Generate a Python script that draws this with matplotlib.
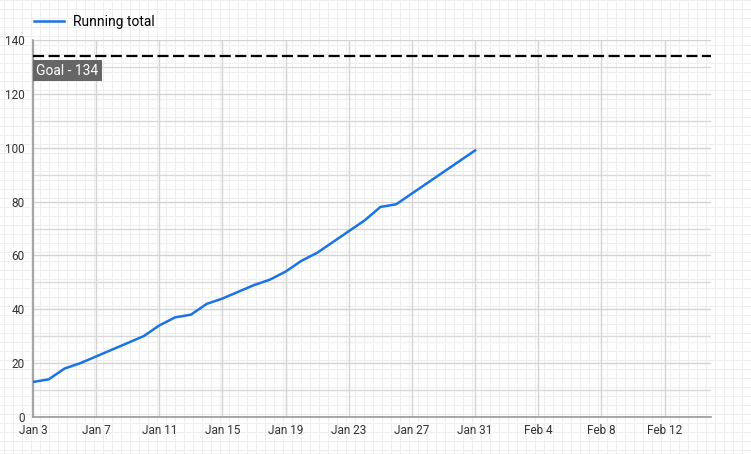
import matplotlib.pyplot as plt
import numpy as np
import pandas as pd

plt.rcParams['font.family'] = ['Roboto', 'DejaVu Sans']

# data
dates = pd.date_range("2024-01-03", "2024-01-31", freq="D")
running_total = [13, 14, 18, 20, 22.5, 25, 27.5, 30, 34, 37, 38, 42, 44, 46.5, 49,
                 51, 54, 58, 61, 65, 69, 73, 78, 79, 83, 87, 91, 95, 99]
goal = 134
goal_label = "Goal - 134"
series_label = "Running total"

fig = plt.figure(figsize=(7.51, 4.54), dpi=100)

# graph paper background
bg = fig.add_axes([0, 0, 1, 1], zorder=-10)
bg.set_xlim(0, 751)
bg.set_ylim(454, 0)
for x in np.arange(4, 751, 9):
    bg.axvline(x, color="#efefef", lw=0.8)
for y in np.arange(0, 454, 9):
    bg.axhline(y, color="#efefef", lw=0.8)
bg.axis("off")

ax = fig.add_axes([33 / 751, 1 - 417 / 454, (711 - 33) / 751, (417 - 40) / 454])
ax.patch.set_alpha(0)

ax.plot(dates, running_total, color="#1a73e8", lw=1.8, label=series_label, zorder=3)
ax.axhline(goal, color="black", lw=1.6, ls=(0, (5, 2)), zorder=3)

x0 = pd.Timestamp("2024-01-03")
ax.set_xlim(x0, pd.Timestamp("2024-02-14 22:30"))
ax.set_ylim(0, 140)

ax.text(x0 + pd.Timedelta(hours=5), goal - 5.5, goal_label, color="white", fontsize=10,
        va="center", ha="left", zorder=4,
        bbox=dict(boxstyle="square,pad=0.25", fc="#666666", ec="none"))

ax.set_yticks(np.arange(0, 141, 20))
ax.set_yticks(np.arange(0, 141, 10), minor=True)
ticks = pd.date_range("2024-01-03", "2024-02-14", freq="4D")
ax.set_xticks(ticks)
ax.set_xticklabels([d.strftime("%b ") + str(d.day) for d in ticks])

ax.grid(True, which="major", color="#d4d4d4", lw=1)
ax.grid(True, which="minor", axis="y", color="#dadada", lw=1)
ax.tick_params(which="both", length=0, labelsize=8.5, colors="#333333", pad=5)
ax.tick_params(axis="y", pad=6)

for s in ["top", "right"]:
    ax.spines[s].set_visible(False)
ax.spines["left"].set_color("#999999")
ax.spines["bottom"].set_color("#999999")
ax.spines["left"].set_linewidth(1.2)
ax.spines["bottom"].set_linewidth(1.2)

ax.legend(loc="lower left", bbox_to_anchor=(-0.007, 1.015), frameon=False, fontsize=10,
          handlelength=2.2, handletextpad=0.6, borderaxespad=0)

fig.savefig("out.png", dpi=100)
